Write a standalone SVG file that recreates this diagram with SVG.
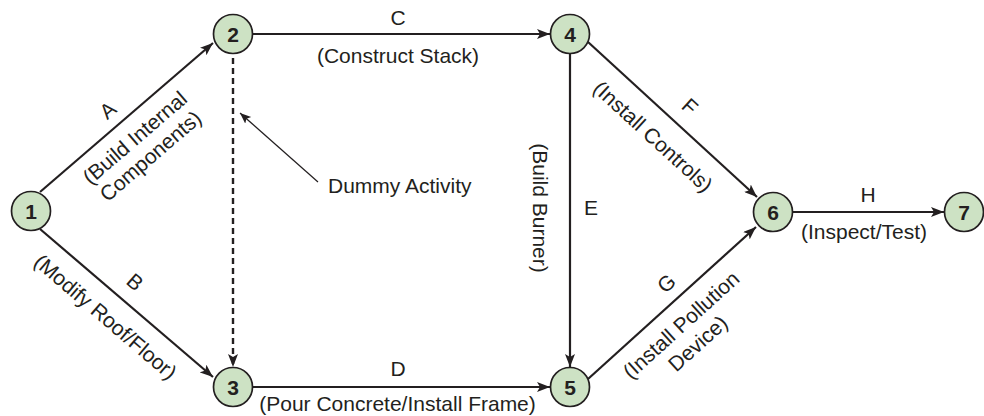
<svg xmlns="http://www.w3.org/2000/svg" width="984" height="416" viewBox="0 0 984 416">
<defs>
<style>
.node circle{fill:#cde2c4;stroke:#231f20;stroke-width:1.7}
.node text{font-family:"Liberation Sans",Arial,sans-serif;font-weight:bold;font-size:21px;fill:#231f20;text-anchor:middle}
.edge{stroke:#231f20;stroke-width:2.2;fill:none;marker-end:url(#arr)}
.dash{stroke-dasharray:6 4;stroke-width:2.4}
.thin{stroke:#231f20;stroke-width:1.2;fill:none;marker-end:url(#arrs)}
.lbl{font-family:"Liberation Sans",Arial,sans-serif;font-size:21px;fill:#231f20;text-anchor:middle}
</style>
<marker id="arr" markerUnits="userSpaceOnUse" markerWidth="14" markerHeight="10" refX="13" refY="5" orient="auto">
<path d="M0,0 L13,5 L0,10 L3,5 z" fill="#231f20"/>
</marker>
<marker id="arrs" markerUnits="userSpaceOnUse" markerWidth="12" markerHeight="10" refX="11" refY="4.5" orient="auto">
<path d="M0,0 L11,4.5 L0,9 L2.5,4.5 z" fill="#231f20"/>
</marker>
</defs>
<rect width="984" height="416" fill="#ffffff"/>
<g id="connectors">
<line class="edge" x1="40" y1="192" x2="213" y2="43"/>
<line class="edge" x1="40" y1="229" x2="213" y2="377"/>
<line class="edge dash" x1="233" y1="58" x2="233" y2="367"/>
<line class="edge" x1="253" y1="34" x2="550" y2="34"/>
<line class="edge" x1="253" y1="387" x2="550" y2="387"/>
<line class="edge" x1="570" y1="54" x2="570" y2="367"/>
<line class="edge" x1="588" y1="42" x2="757" y2="197"/>
<line class="edge" x1="588" y1="379" x2="756" y2="227"/>
<line class="edge" x1="793" y1="212" x2="944" y2="212"/>
<line class="thin" x1="318" y1="182" x2="240" y2="113"/>
</g>
<g id="labels">
<text class="lbl" transform="translate(112.5,115.8) rotate(-40.73)">A</text>
<text class="lbl" transform="translate(139.5,143.3) rotate(-40.73)">(Build Internal</text>
<text class="lbl" transform="translate(155.2,161.5) rotate(-40.73)">Components)</text>
<text class="lbl" transform="translate(130.4,287.5) rotate(40.55)">B</text>
<text class="lbl" transform="translate(100.7,322.3) rotate(40.55)">(Modify Roof/Floor)</text>
<text class="lbl" x="398" y="25">C</text>
<text class="lbl" x="398" y="63">(Construct Stack)</text>
<text class="lbl" x="398" y="376">D</text>
<text class="lbl" x="397.5" y="411">(Pour Concrete/Install Frame)</text>
<text class="lbl" x="591" y="215">E</text>
<text class="lbl" transform="translate(533,208) rotate(90)">(Build Burner)</text>
<text class="lbl" transform="translate(684.9,111.9) rotate(42.53)">F</text>
<text class="lbl" transform="translate(648,141.8) rotate(42.53)">(Install Controls)</text>
<text class="lbl" transform="translate(671.3,288.8) rotate(-42.14)">G</text>
<text class="lbl" transform="translate(685.9,330.3) rotate(-42.14)">(Install Pollution</text>
<text class="lbl" transform="translate(702.7,348.8) rotate(-42.14)">Device)</text>
<text class="lbl" x="868" y="202">H</text>
<text class="lbl" x="864" y="239">(Inspect/Test)</text>
<text class="lbl" x="328" y="193" style="text-anchor:start">Dummy Activity</text>
</g>
<g id="node1" class="node"><circle cx="31" cy="211" r="19.5"/><text x="31" y="218.5">1</text></g>
<g id="node2" class="node"><circle cx="233" cy="34" r="19.5"/><text x="233" y="41.5">2</text></g>
<g id="node3" class="node"><circle cx="233" cy="387" r="19.5"/><text x="233" y="394.5">3</text></g>
<g id="node4" class="node"><circle cx="570" cy="34" r="19.5"/><text x="570" y="41.5">4</text></g>
<g id="node5" class="node"><circle cx="570" cy="387" r="19.5"/><text x="570" y="394.5">5</text></g>
<g id="node6" class="node"><circle cx="773" cy="212" r="19.5"/><text x="773" y="219.5">6</text></g>
<g id="node7" class="node"><circle cx="964" cy="212" r="19.5"/><text x="964" y="219.5">7</text></g>
</svg>
